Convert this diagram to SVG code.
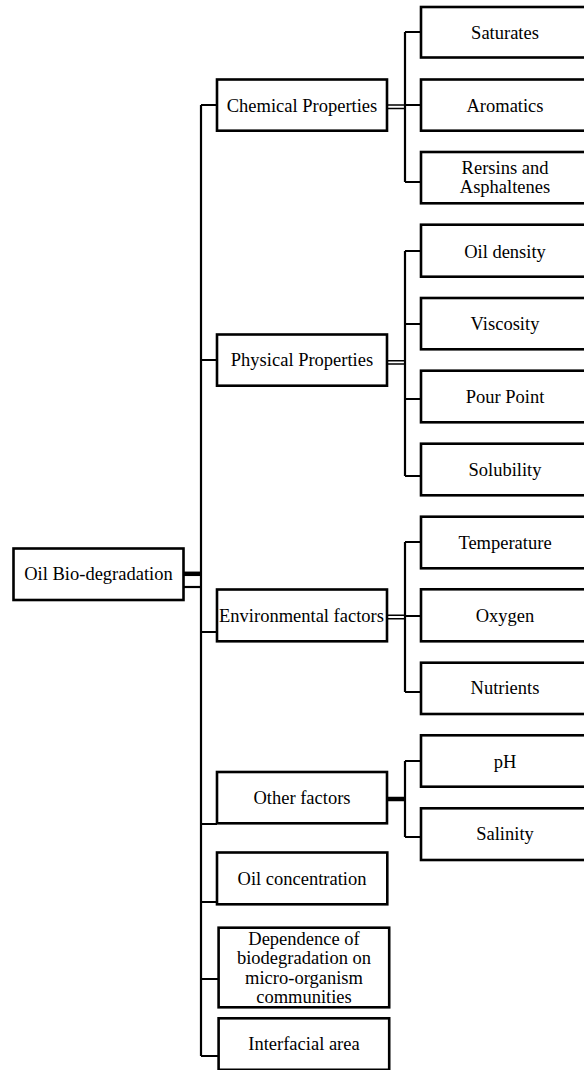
<svg xmlns="http://www.w3.org/2000/svg" width="584" height="1070" viewBox="0 0 584 1070">
<style>
.box{fill:#fff;stroke:#000;stroke-width:2.6}
.t{font-family:"Liberation Serif","Times New Roman",serif;font-size:18.5px;fill:#000;text-anchor:middle;dominant-baseline:central}
.c{fill:none;stroke:#000;stroke-width:2.2}
.thin{fill:none;stroke:#000;stroke-width:1.6}
.thick{fill:none;stroke:#000;stroke-width:4.5}
</style>
<rect width="584" height="1070" fill="#fff"/>
<g id="connectors">
<path class="c" d="M201 105V1056"/>
<path class="thick" d="M183 573.8H201"/>
<path class="c" d="M183 587H201"/>
<path class="c" d="M201 105H217M201 360H217M201 632H217M201 824H217M201 902H217M201 979H219M201 1056H219"/>
<path class="thin" d="M387 105H405M387 108.5H405"/>
<path class="c" d="M405 32V182M405 32H421M405 105H421M405 182H421"/>
<path class="thin" d="M387 360.7H405M387 364H405"/>
<path class="c" d="M405 251V476M405 251H421M405 324H421M405 399H421M405 476H421"/>
<path class="thin" d="M387 615.3H405M387 618.7H405"/>
<path class="c" d="M405 542V692M405 542H421M405 616H421M405 692H421"/>
<path class="thick" d="M387 799H405"/>
<path class="c" d="M405 761V837M405 761H421M405 837H421"/>
</g>
<g id="root"><rect class="box" x="13.5" y="548.5" width="170" height="51.5"/><text class="t" x="98.5" y="574">Oil Bio-degradation</text></g>
<g id="chemical"><rect class="box" x="217" y="79.5" width="170" height="51.2"/><text class="t" x="302" y="105.5">Chemical Properties</text></g>
<g id="physical"><rect class="box" x="217" y="334.5" width="170" height="51.2"/><text class="t" x="302" y="360">Physical Properties</text></g>
<g id="environmental"><rect class="box" x="217" y="589.5" width="170" height="51.8"/><text class="t" x="301.5" y="615.7">Environmental factors</text></g>
<g id="other"><rect class="box" x="217" y="772" width="170" height="51.3"/><text class="t" x="302" y="798.3">Other factors</text></g>
<g id="oilconc"><rect class="box" x="217" y="852.5" width="170.3" height="51.8"/><text class="t" x="302" y="879">Oil concentration</text></g>
<g id="dependence"><rect class="box" x="218.6" y="927.7" width="170.6" height="79.6"/><text class="t" x="304" y="938.5">Dependence of</text><text class="t" x="304" y="958">biodegradation on</text><text class="t" x="304" y="977.5">micro-organism</text><text class="t" x="304" y="996.7">communities</text></g>
<g id="interfacial"><rect class="box" x="218.6" y="1018.3" width="170.6" height="51.5"/><text class="t" x="304" y="1044.3">Interfacial area</text></g>
<g id="saturates"><rect class="box" x="421" y="7" width="168" height="50.5"/><text class="t" x="505" y="32.5">Saturates</text></g>
<g id="aromatics"><rect class="box" x="421" y="79.5" width="168" height="51.2"/><text class="t" x="505" y="106">Aromatics</text></g>
<g id="resins"><rect class="box" x="421" y="152" width="168" height="51.3"/><text class="t" x="505" y="168">Rersins and</text><text class="t" x="505" y="187">Asphaltenes</text></g>
<g id="density"><rect class="box" x="421" y="224.7" width="168" height="52"/><text class="t" x="505" y="251.5">Oil density</text></g>
<g id="viscosity"><rect class="box" x="421" y="298" width="168" height="51.3"/><text class="t" x="505" y="324">Viscosity</text></g>
<g id="pourpoint"><rect class="box" x="421" y="370.7" width="168" height="51.6"/><text class="t" x="505" y="396.7">Pour Point</text></g>
<g id="solubility"><rect class="box" x="421" y="443.7" width="168" height="51.6"/><text class="t" x="505" y="470">Solubility</text></g>
<g id="temperature"><rect class="box" x="421" y="516.7" width="168" height="51.6"/><text class="t" x="505" y="543.3">Temperature</text></g>
<g id="oxygen"><rect class="box" x="421" y="589.3" width="168" height="52"/><text class="t" x="505" y="615.7">Oxygen</text></g>
<g id="nutrients"><rect class="box" x="421" y="662.7" width="168" height="51.3"/><text class="t" x="505" y="688.3">Nutrients</text></g>
<g id="ph"><rect class="box" x="421" y="735.3" width="168" height="51.4"/><text class="t" x="505" y="761.5">pH</text></g>
<g id="salinity"><rect class="box" x="421" y="808.3" width="168" height="51.7"/><text class="t" x="505" y="834.3">Salinity</text></g>
</svg>
